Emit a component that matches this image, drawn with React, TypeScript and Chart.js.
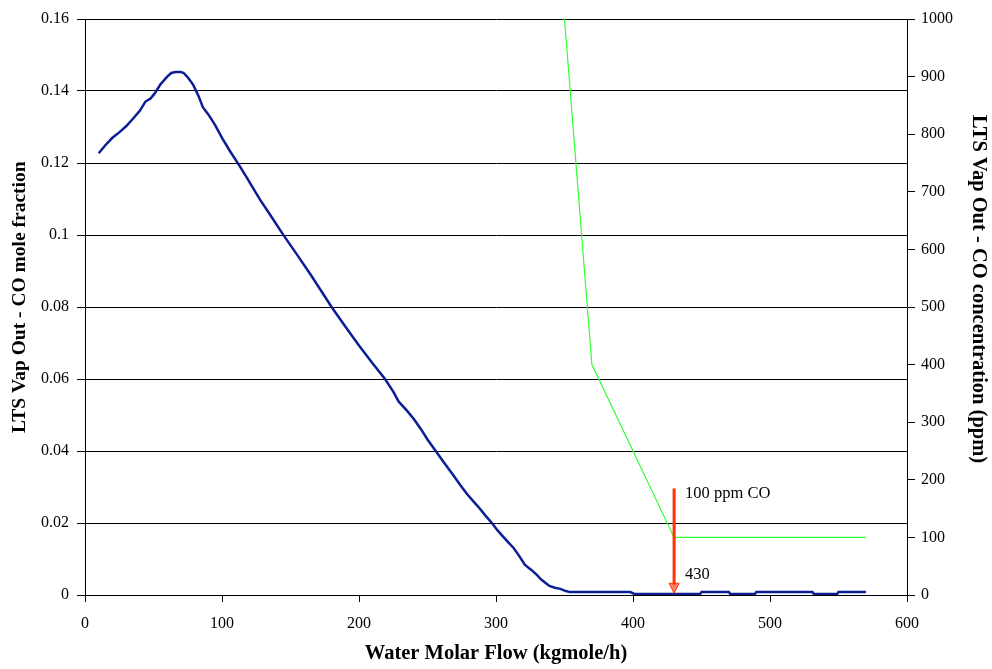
import React, { useEffect, useRef } from "react";
import { Chart, registerables } from "chart.js";

Chart.register(...registerables);

// Blue series: LTS Vap Out - CO mole fraction vs water molar flow
const flowX = [
  10, 15, 20, 25, 30, 35, 40, 44, 48, 51, 55, 60, 63, 66, 70, 72, 75, 79, 83, 86, 90, 95, 100, 106, 112,
  118, 124, 128, 135, 145, 155, 165, 180, 190, 200, 210, 219, 225, 229, 235, 240, 245, 250, 256, 262,
  269, 274, 279, 284, 288, 292, 297, 301, 305, 309, 313, 317, 321, 326, 330, 333, 336, 339, 343, 347,
  351, 354, 398, 401, 449, 450, 470, 471, 489, 490, 531, 532, 549, 550, 570,
];
const coFraction = [
  0.1227, 0.125, 0.127, 0.1285, 0.1302, 0.1323, 0.1345, 0.137, 0.138, 0.1394, 0.1418, 0.144, 0.145,
  0.1453, 0.1453, 0.145, 0.1438, 0.1417, 0.1385, 0.1355, 0.1335, 0.1305, 0.127, 0.1232, 0.1197, 0.116,
  0.1122, 0.1097, 0.1057, 0.0999, 0.0944, 0.0888, 0.08, 0.0746, 0.0693, 0.0643, 0.06, 0.0565, 0.0537,
  0.0512, 0.0489, 0.0462, 0.0432, 0.04, 0.0368, 0.0332, 0.0305, 0.028, 0.0258, 0.0241, 0.0222, 0.02,
  0.018, 0.0163, 0.0146, 0.013, 0.0108, 0.0084, 0.0069, 0.0055, 0.0043, 0.0034, 0.0025, 0.002, 0.0017,
  0.0011, 0.0008, 0.0008, 0.0003, 0.0003, 0.0008, 0.0008, 0.0003, 0.0003, 0.0008, 0.0008, 0.0003,
  0.0003, 0.0008, 0.0008,
];

// Green series: CO concentration (ppm)
const ppmX = [350, 370, 430, 570];
const ppmValues = [1000, 400, 100, 100];

// Annotation arrow and labels (ppm axis)
const arrowX = 430;
const arrowFromPpm = 185;
const arrowToPpm = 3;
const noteTexts = ["100 ppm CO", "430"];
const noteX = [438, 438];
const notePpm = [176, 36];

// Axis titles
const xTitle = "Water Molar Flow (kgmole/h)";
const yTitle = "    LTS Vap Out - CO mole fraction";
const y2Title = "LTS Vap Out - CO concentration (ppm)       ";

const SERIF = "'Liberation Serif', 'Times New Roman', serif";

const annotationPlugin = {
  id: "arrowNotes",
  afterDatasetsDraw(chart: any) {
    const { ctx, scales } = chart;
    const xs = scales.x;
    const ys = scales.y2;
    const px = xs.getPixelForValue(arrowX);
    const pTop = ys.getPixelForValue(arrowFromPpm);
    const pTip = ys.getPixelForValue(arrowToPpm);
    ctx.save();
    ctx.strokeStyle = "#FF3300";
    ctx.lineWidth = 3;
    ctx.beginPath();
    ctx.moveTo(px, pTop);
    ctx.lineTo(px, pTip - 8);
    ctx.stroke();
    ctx.beginPath();
    ctx.moveTo(px - 5, pTip - 10);
    ctx.lineTo(px + 5, pTip - 10);
    ctx.lineTo(px, pTip);
    ctx.closePath();
    ctx.fillStyle = "rgba(255,90,50,0.75)";
    ctx.fill();
    ctx.lineWidth = 1;
    ctx.strokeStyle = "#FF3300";
    ctx.stroke();

    ctx.fillStyle = "#000";
    ctx.font = `16.5px ${SERIF}`;
    ctx.textAlign = "left";
    ctx.textBaseline = "middle";
    noteTexts.forEach((t, i) => {
      ctx.fillText(t, xs.getPixelForValue(noteX[i]), ys.getPixelForValue(notePpm[i]));
    });
    ctx.restore();
  },
};

export default function App() {
  const canvasRef = useRef<HTMLCanvasElement | null>(null);

  useEffect(() => {
    if (!canvasRef.current) return;
    const tickFont = { family: SERIF, size: 16 };
    const chart = new Chart(canvasRef.current, {
      type: "line",
      data: {
        datasets: [
          {
            label: "CO mole fraction",
            data: flowX.map((x, i) => ({ x, y: coFraction[i] })),
            borderColor: "#0B1E94",
            borderWidth: 2.5,
            pointRadius: 0,
            tension: 0,
            yAxisID: "y",
          },
          {
            label: "CO ppm",
            data: ppmX.map((x, i) => ({ x, y: ppmValues[i] })),
            borderColor: "#33FF33",
            borderWidth: 1.2,
            pointRadius: 0,
            tension: 0,
            yAxisID: "y2",
          },
        ],
      },
      options: {
        animation: false,
        responsive: true,
        maintainAspectRatio: false,
        layout: { padding: { top: 19, left: 0, right: 0, bottom: 0 } },
        plugins: { legend: { display: false }, tooltip: { enabled: false } },
        scales: {
          x: {
            type: "linear",
            position: "bottom",
            min: 0,
            max: 600,
            ticks: { stepSize: 100, font: tickFont, color: "#000", padding: 12, maxRotation: 0 },
            grid: { drawOnChartArea: false, drawTicks: true, tickLength: 7, color: "#000" },
            border: { color: "#000", width: 1 },
            title: {
              display: true,
              text: xTitle,
              font: { family: SERIF, size: 20.5, weight: "bold" },
              color: "#000",
              padding: { top: 0, bottom: 3 },
            },
            afterFit: (s: any) => {
              s.height = 74;
            },
          },
          y: {
            type: "linear",
            position: "left",
            min: 0,
            max: 0.16,
            ticks: {
              stepSize: 0.02,
              font: tickFont,
              color: "#000",
              padding: 8,
              callback: (v: any) => String(Math.round(Number(v) * 100) / 100),
            },
            grid: { color: "#000", lineWidth: 1, tickLength: 8 },
            border: { color: "#000", width: 1 },
            title: {
              display: true,
              text: yTitle,
              font: { family: SERIF, size: 19.5, weight: "bold" },
              color: "#000",
              padding: { top: 8, bottom: 0 },
            },
            afterFit: (s: any) => {
              s.width = 85;
            },
          },
          y2: {
            type: "linear",
            position: "right",
            min: 0,
            max: 1000,
            ticks: {
              stepSize: 100,
              font: tickFont,
              color: "#000",
              padding: 6,
              callback: (v: any) => String(Math.round(Number(v))),
            },
            grid: { drawOnChartArea: false, tickLength: 8, color: "#000" },
            border: { color: "#000", width: 1 },
            title: {
              display: true,
              text: y2Title,
              font: { family: SERIF, size: 20.5, weight: "bold" },
              color: "#000",
              padding: { top: 1, bottom: 0 },
            },
            afterFit: (s: any) => {
              s.width = 85;
            },
          },
        },
      },
      plugins: [annotationPlugin],
    });
    return () => chart.destroy();
  }, []);

  return (
    <div style={{ position: "fixed", left: 0, top: 0, width: 992, height: 669, background: "#fff" }}>
      <canvas ref={canvasRef} />
    </div>
  );
}
